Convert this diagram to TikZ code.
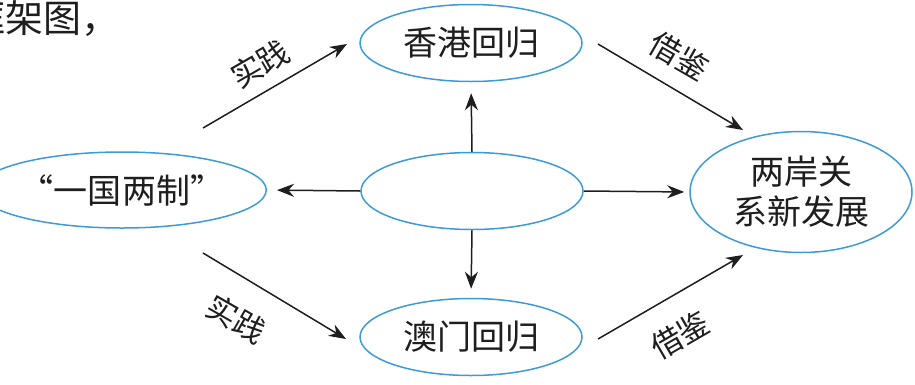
\documentclass[tikz,border=0pt]{standalone}
\usepackage{fontspec}
\setmainfont{Noto Sans CJK SC}
\usetikzlibrary{shapes.geometric,arrows.meta}
\definecolor{ellblue}{RGB}{60,155,215}
\definecolor{ink}{RGB}{30,30,30}
\tikzset{
  oval/.style={ellipse,draw=ellblue,line width=1.5bp,inner sep=0pt,
    minimum width=222bp,minimum height=77bp,text=ink,
    font=\fontsize{34bp}{40bp}\selectfont,align=center},
  conn/.style={draw=ink,line width=1.5bp,-{Stealth[length=17bp,width=13bp]}},
  lbl/.style={text=ink,inner sep=0pt,font=\fontsize{31bp}{34bp}\selectfont}
}
\begin{document}
\begin{tikzpicture}[x=1bp,y=-1bp]
\useasboundingbox (0,0) rectangle (915,384);
% heading fragment (cut at left edge)
\node[anchor=west,inner sep=0pt,text=ink,font=\fontsize{38bp}{40bp}\selectfont] (head) at (-33,19) {框架图，};
% ellipses
\node[oval] (T) at (471,43) {香港回归};
\node[oval] (C) at (472,191) {};
\node[oval] (B) at (471,337) {澳门回归};
\node[oval,minimum width=232bp,minimum height=76bp] (L) at (122,190) {“一国两制”};
\node[oval,minimum width=222bp,minimum height=121bp] (R) at (801,192) {两岸关\\系新发展};
% center arrows
\draw[conn,shorten >=11bp] (C.north) -- (T.south);
\draw[conn,shorten >=9bp] (C.south) -- (B.north);
\draw[conn,shorten >=10bp] (C.west) -- (L.east);
\draw[conn,shorten >=5bp] (C.east) -- (R.west);
% diagonal connector end points
\coordinate (ls1) at (203,128);
\coordinate (te1) at (347,44);
\coordinate (ls2) at (203,253);
\coordinate (be1) at (346,339);
\coordinate (ts1) at (598,44);
\coordinate (re1) at (743,130);
\coordinate (bs1) at (598,339);
\coordinate (re2) at (743,255);
\draw[conn] (ls1) -- (te1);
\draw[conn] (ls2) -- (be1);
\draw[conn] (ts1) -- (re1);
\draw[conn] (bs1) -- (re2);
% labels
\node[lbl,rotate=30] (l1) at (260,64) {实践};
\node[lbl,rotate=-30] (l2) at (236,319) {实践};
\node[lbl,rotate=-30] (l3) at (679,56) {借鉴};
\node[lbl,rotate=30] (l4) at (680,335) {借鉴};
\end{tikzpicture}
\end{document}
